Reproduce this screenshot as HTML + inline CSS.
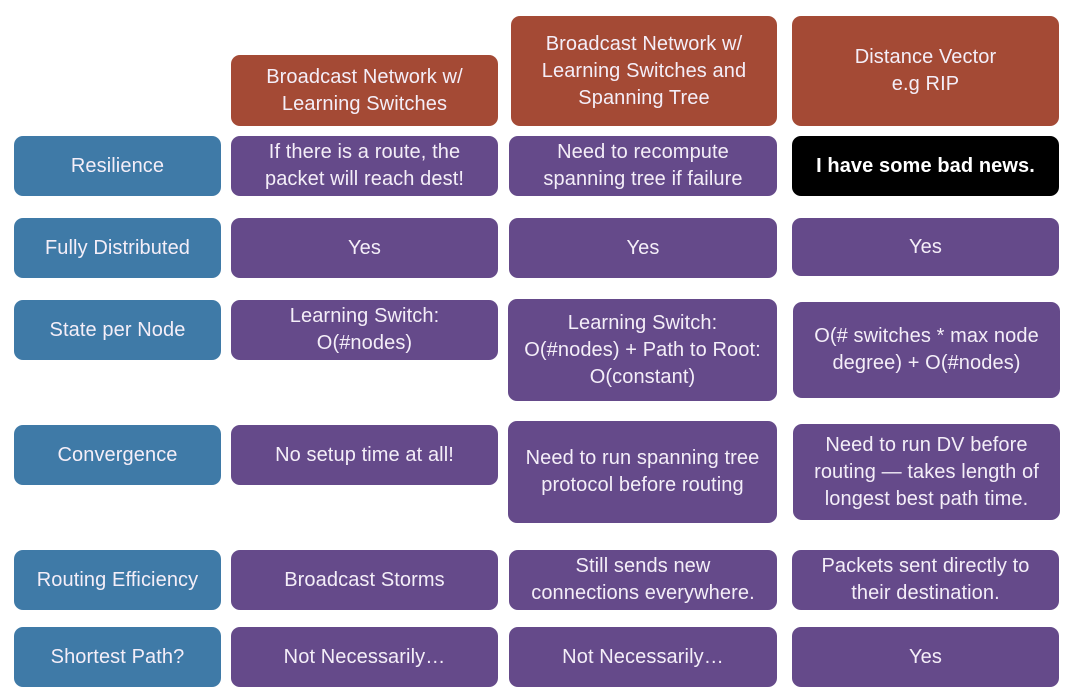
<!DOCTYPE html>
<html><head><meta charset="utf-8"><style>
html,body{margin:0;padding:0;background:#fff;}
body{width:1082px;height:694px;position:relative;overflow:hidden;font-family:"Liberation Sans",sans-serif;}
.b{position:absolute;border-radius:9px;color:#f4eef8;display:flex;align-items:center;justify-content:center;text-align:center;font-size:20px;line-height:27px;letter-spacing:0.1px;}
.h{background:#a44a35;}
.l{background:#3f7aa7;left:14px;width:207px;}
.p{background:#654a8a;}
.k{background:#000;color:#fff;font-weight:bold;}
</style></head><body>
<div class="b h" style="left:231px;top:55px;width:267px;height:71px">Broadcast Network w/<br>Learning Switches</div>
<div class="b h" style="left:511px;top:16px;width:266px;height:110px">Broadcast Network w/<br>Learning Switches and<br>Spanning Tree</div>
<div class="b h" style="left:792px;top:16px;width:267px;height:110px">Distance Vector<br>e.g RIP</div>

<div class="b l" style="top:136px;height:60px">Resilience</div>
<div class="b p" style="left:231px;top:136px;width:267px;height:60px">If there is a route, the<br>packet will reach dest!</div>
<div class="b p" style="left:509px;top:136px;width:268px;height:60px">Need to recompute<br>spanning tree if failure</div>
<div class="b k" style="left:792px;top:136px;width:267px;height:60px">I have some bad news.</div>

<div class="b l" style="top:218px;height:60px">Fully Distributed</div>
<div class="b p" style="left:231px;top:218px;width:267px;height:60px">Yes</div>
<div class="b p" style="left:509px;top:218px;width:268px;height:60px">Yes</div>
<div class="b p" style="left:792px;top:218px;width:267px;height:58px">Yes</div>

<div class="b l" style="top:300px;height:60px">State per Node</div>
<div class="b p" style="left:231px;top:300px;width:267px;height:60px;align-items:flex-start;padding-top:3px;box-sizing:border-box">Learning Switch:<br>O(#nodes)</div>
<div class="b p" style="left:508px;top:299px;width:269px;height:102px">Learning Switch:<br>O(#nodes) + Path to Root:<br>O(constant)</div>
<div class="b p" style="left:793px;top:302px;width:267px;height:96px">O(# switches * max node<br>degree) + O(#nodes)</div>

<div class="b l" style="top:425px;height:60px">Convergence</div>
<div class="b p" style="left:231px;top:425px;width:267px;height:60px">No setup time at all!</div>
<div class="b p" style="left:508px;top:421px;width:269px;height:102px">Need to run spanning tree<br>protocol before routing</div>
<div class="b p" style="left:793px;top:424px;width:267px;height:96px">Need to run DV before<br>routing — takes length of<br>longest best path time.</div>

<div class="b l" style="top:550px;height:60px">Routing Efficiency</div>
<div class="b p" style="left:231px;top:550px;width:267px;height:60px">Broadcast Storms</div>
<div class="b p" style="left:509px;top:550px;width:268px;height:60px">Still sends new<br>connections everywhere.</div>
<div class="b p" style="left:792px;top:550px;width:267px;height:60px">Packets sent directly to<br>their destination.</div>

<div class="b l" style="top:627px;height:60px">Shortest Path?</div>
<div class="b p" style="left:231px;top:627px;width:267px;height:60px">Not Necessarily…</div>
<div class="b p" style="left:509px;top:627px;width:268px;height:60px">Not Necessarily…</div>
<div class="b p" style="left:792px;top:627px;width:267px;height:60px">Yes</div>
</body></html>
